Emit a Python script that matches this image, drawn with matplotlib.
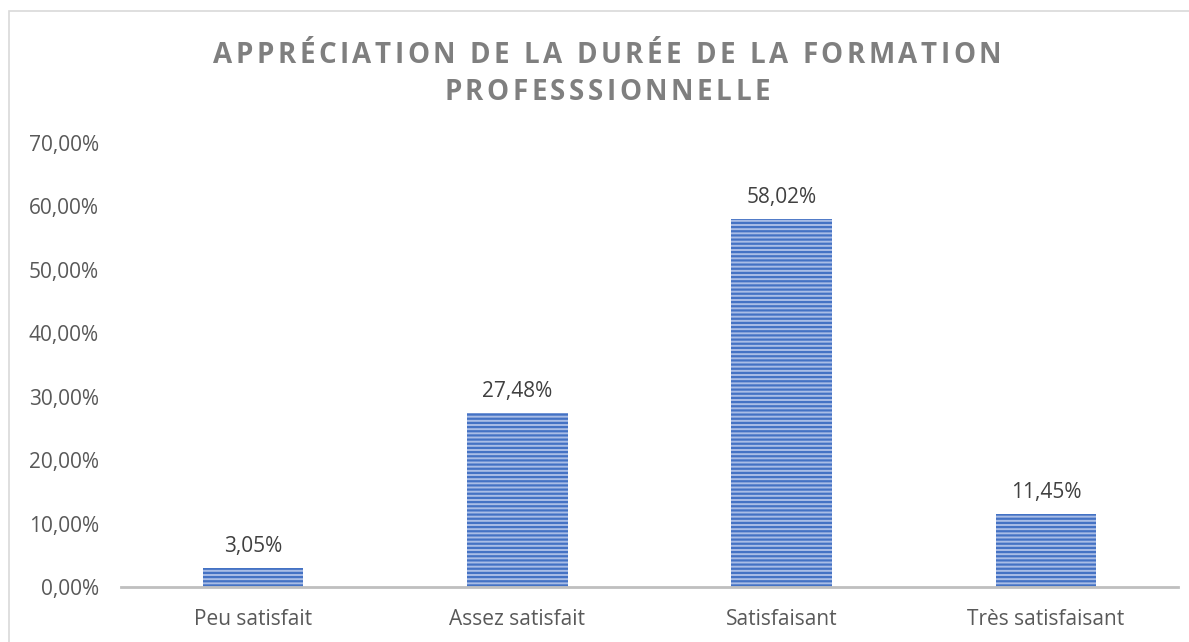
import matplotlib.pyplot as plt
from matplotlib.patches import Rectangle
from matplotlib.ticker import FuncFormatter

plt.rcParams['font.family'] = ['Open Sans', 'DejaVu Sans']
plt.rcParams['hatch.linewidth'] = 1.6

# donnees
categories = ['Peu satisfait', 'Assez satisfait', 'Satisfaisant', 'Très satisfaisant']
valeurs = [3.05, 27.48, 58.02, 11.45]
titre = ['APPRÉCIATION DE LA DURÉE DE LA FORMATION', 'PROFESSSIONNELLE']

W, H = 1189, 642
fig = plt.figure(figsize=(W/100, H/100), dpi=100)
ax = fig.add_axes([121/W, 55/H, 1057/W, 444/H])

# cadre du graphique
fig.patches.append(Rectangle((9/W, -0.1), 1.2, 1 - 11/H + 0.1, transform=fig.transFigure,
                             fill=False, edgecolor='#d9d9d9', linewidth=1.2))

x = range(len(categories))
ax.bar(x, valeurs, width=0.38, color='#a9bde6', edgecolor='#4472c4',
       linewidth=0, hatch='----')

for i, v in enumerate(valeurs):
    ax.annotate(f'{v:.2f}%'.replace('.', ','), (i, v), xytext=(0, 8),
                textcoords='offset points', ha='center', va='bottom',
                fontsize=15, color='#404040')

ax.set_xlim(-0.5, len(categories) - 0.5)
ax.set_ylim(0, 70)
ax.set_yticks(range(0, 71, 10))
ax.yaxis.set_major_formatter(FuncFormatter(lambda v, p: f'{v:.2f}%'.replace('.', ',')))
ax.set_xticks(list(x))
ax.set_xticklabels(categories)
ax.tick_params(axis='both', length=0, labelsize=15, colors='#595959')
ax.tick_params(axis='y', pad=16)
ax.tick_params(axis='x', pad=16)

for s in ['top', 'right', 'left']:
    ax.spines[s].set_visible(False)
ax.spines['bottom'].set_color('#bfbfbf')
ax.spines['bottom'].set_linewidth(2)

# titre avec espacement des lettres
renderer = fig.canvas.get_renderer()
espace = 3.5  # px entre lettres
for ligne, yb in zip(titre, [63, 100]):
    txts = [fig.text(0, 1 - yb/H, c, ha='left', va='baseline', fontsize=20,
                     fontweight='bold', color='#7f7f7f') for c in ligne]
    larg = []
    for t, c in zip(txts, ligne):
        if c == ' ':
            t.set_text('a a')
            w = t.get_window_extent(renderer).width
            t.set_text('aa')
            w -= t.get_window_extent(renderer).width
            t.set_text(' ')
        else:
            w = t.get_window_extent(renderer).width
        larg.append(w)
    total = sum(larg) + espace * (len(ligne) - 1)
    pos = 607 - total / 2
    for t, w in zip(txts, larg):
        t.set_x(pos / W)
        pos += w + espace

fig.savefig('out.png', dpi=100)
